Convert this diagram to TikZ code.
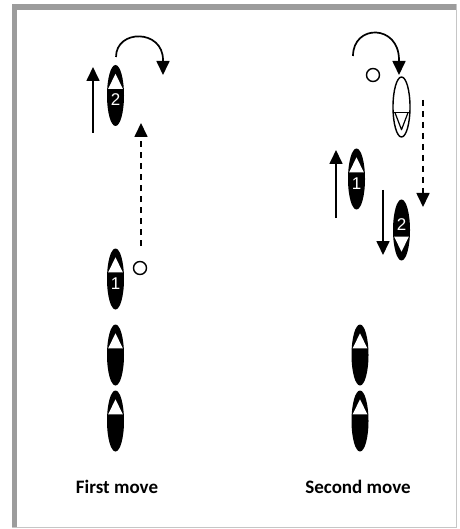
\documentclass[tikz,border=0pt]{standalone}
\usepackage{fontspec}
\setmainfont{Carlito}
\newfontfamily\numfont{Liberation Sans}
\usetikzlibrary{arrows.meta,positioning,calc,shapes.geometric}

\begin{document}
\begin{tikzpicture}[
  x=1pt, y=-1pt,
  player/.style={ellipse, fill=black, minimum width=17pt, minimum height=61pt, inner sep=0pt},
  ghost/.style={ellipse, draw=black, line width=1.4pt, fill=white, minimum width=17pt, minimum height=60pt, inner sep=0pt},
  ball/.style={circle, draw=black, line width=1.4pt, minimum size=13pt, inner sep=0pt},
  num/.style={text=white, inner sep=0pt, font=\numfont\fontsize{17}{17}\selectfont},
  caption/.style={anchor=base, font=\fontsize{19}{22}\selectfont\bfseries},
  run/.style={line width=1.7pt, -{Triangle[length=14pt,width=13pt]}},
  pass/.style={run, dash pattern=on 6pt off 5pt}
]
  \useasboundingbox (0,0) rectangle (459,529);

  % Frame
  \fill[gray!78] (12,4) rectangle (456,10);
  \fill[gray!78] (12,4) rectangle (17,527);
  \draw[gray!45, line width=1pt] (456,4) -- (456,527) -- (12,527);

  % First move
  \node[player] (L2) at (115.5,95.5) {};
  \node[player] (L1) at (115.5,279) {};
  \node[player] (L3) at (115.5,355) {};
  \node[player] (L4) at (115.5,421) {};
  \node[ball] (ball1) at (140,268) {};

  % Second move
  \node[ghost] (G2) at (401.5,107) {};
  \node[player] (R1) at (356.5,179) {};
  \node[player] (R2) at (401.5,230) {};
  \node[player] (R3) at (360,355) {};
  \node[player] (R4) at (360,421) {};
  \node[ball] (ball2) at (373,75) {};

  % Facing triangles
  \foreach \p in {L2,L1,L3,L4,R1,R3,R4}
    \fill[white] ($(\p.north)+(0,9)$) -- ($(\p.north)+(-7.3,24)$) -- ($(\p.north)+(7.3,24)$) -- cycle;
  \fill[white] ($(R2.south)+(0,-9)$) -- ($(R2.south)+(-7.3,-24)$) -- ($(R2.south)+(7.3,-24)$) -- cycle;
  \draw[line width=1.2pt] ($(G2.south)+(-8.3,-25)$) -- ($(G2.south)+(8.3,-25)$);
  \draw[line width=1.2pt, line join=round] ($(G2.south)+(-6.5,-25)$) -- ($(G2.south)+(0,-8)$) -- ($(G2.south)+(6.5,-25)$);

  % Numbers
  \node[num] (L2n) at ($(L2.center)+(0,4)$) {2};
  \node[num] (L1n) at ($(L1.center)+(0,5)$) {1};
  \node[num] (R1n) at ($(R1.center)+(0,5)$) {1};
  \node[num] (R2n) at ($(R2.center)+(0,-5)$) {2};

  % Runs and passes
  \coordinate (a1s) at (93,133);
  \coordinate (a1e) at (93,67);
  \coordinate (a2s) at (336,218);
  \coordinate (a2e) at (336,150);
  \coordinate (a3s) at (383,190);
  \coordinate (a3e) at (383,255);
  \draw[run] (a1s) -- (a1e);
  \draw[run] (a2s) -- (a2e);
  \draw[run] (a3s) -- (a3e);
  \draw[run] (116,57) .. controls (116,29) and (163,29) .. (163,60) -- (163,75);
  \draw[run] (353,56) .. controls (353,24) and (399,24) .. (399,60) -- (399,75);
  \coordinate (p1s) at (141,246);
  \coordinate (p1e) at (141,123);
  \coordinate (p2s) at (423,100);
  \coordinate (p2e) at (423,207);
  \draw[pass] (p1s) -- (p1e);
  \draw[pass] (p2s) -- (p2e);

  % Captions
  \node[caption] (cap1) at (117,493) {First move};
  \node[caption] (cap2) at (358,493) {Second move};
\end{tikzpicture}
\end{document}
